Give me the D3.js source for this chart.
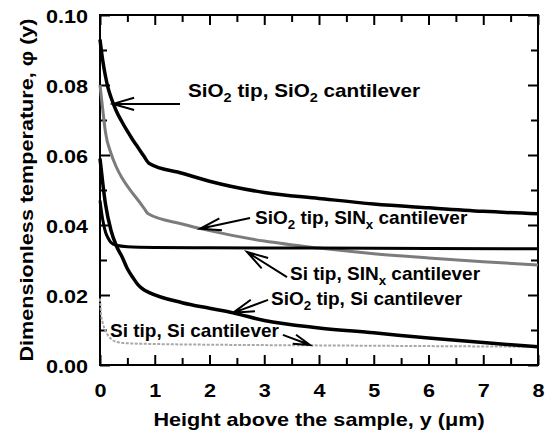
<!DOCTYPE html>
<html>
<head>
<meta charset="utf-8">
<script src="https://cdn.jsdelivr.net/npm/d3@7"></script>
<style>
  body { margin: 0; background: #fff; }
  svg text { font-family: "Liberation Sans", Arial, sans-serif; font-weight: bold; fill: #000; }
</style>
</head>
<body>
<div id="chart"></div>
<script>
// x values are the height above the sample (um), y the dimensionless temperature
var sio2Sio2 = [[0,0.093],[0.05,0.087],[0.1,0.0825],[0.15,0.079],[0.2,0.0765],[0.3,0.0725],[0.4,0.0695],[0.5,0.0668],[0.6,0.0643],[0.7,0.062],[0.8,0.0597],[0.9,0.0576],[1.5,0.0548],[2,0.0525],[3,0.0493],[4,0.0476],[5,0.046],[6,0.0449],[7,0.0439],[8,0.0432]];
var sio2Sinx = [[0,0.080],[0.05,0.073],[0.1,0.0665],[0.2,0.0605],[0.3,0.0565],[0.4,0.0535],[0.5,0.0511],[0.6,0.049],[0.7,0.047],[0.8,0.0449],[0.88,0.0432],[1.5,0.0403],[2,0.0384],[3,0.0354],[4,0.0334],[5,0.0318],[6,0.0306],[7,0.0295],[8,0.0286]];
var siSinx = [[0,0.047],[0.05,0.0415],[0.1,0.038],[0.15,0.0362],[0.2,0.035],[0.3,0.0342],[0.5,0.0338],[1,0.0336],[2,0.0335],[4,0.0334],[8,0.0332]];
var sio2Si = [[0,0.059],[0.05,0.052],[0.1,0.046],[0.2,0.0385],[0.3,0.034],[0.4,0.031],[0.5,0.0275],[0.6,0.025],[0.7,0.0228],[0.8,0.0215],[0.9,0.0207],[1.5,0.0178],[2,0.0162],[2.43,0.0149],[3,0.0127],[4,0.0106],[5,0.0092],[6,0.0077],[7,0.0064],[8,0.0052]];
var siSi = [[0,0.019],[0.02,0.0145],[0.05,0.012],[0.1,0.0098],[0.2,0.0075],[0.3,0.0066],[0.5,0.0062],[1,0.006],[2,0.0058],[4,0.0056],[6,0.0054],[8,0.0052]];

var xTicks = [0,1,2,3,4,5,6,7,8];
var yTicks = [0,0.02,0.04,0.06,0.08,0.10];

// label pieces ("s" = subscript); text anchor and arrow tail/tip in data units
var notes = [
  {parts:[["SiO",""],["2","s"],[" tip, SiO",""],["2","s"],[" cantilever",""]], tx:1.607, ty:0.0751, ax:1.461, ay:0.0746, bx:0.237, by:0.0746},
  {parts:[["SiO",""],["2","s"],[" tip, SIN",""],["x","s"],[" cantilever",""]], tx:2.831, ty:0.0389, ax:2.74, ay:0.042, bx:1.826, by:0.0389},
  {parts:[["Si tip, SIN",""],["x","s"],[" cantilever",""]], tx:3.47, ty:0.0229, ax:3.416, ay:0.0251, bx:2.685, by:0.0323},
  {parts:[["SiO",""],["2","s"],[" tip, Si cantilever",""]], tx:3.123, ty:0.0157, ax:3.07, ay:0.0186, bx:2.43, by:0.0149},
  {parts:[["Si tip, Si cantilever",""]], tx:0.183, ty:0.0066, ax:3.34, ay:0.0086, bx:3.836, by:0.0057}
];

var width = 545, height = 442;
var margin = {top: 15, right: 7, bottom: 77, left: 100};

var svg = d3.select("#chart").append("svg")
  .attr("width", width)
  .attr("height", height);

var x = d3.scaleLinear().domain([0, 8]).range([margin.left, width - margin.right]);
var y = d3.scaleLinear().domain([0, 0.10]).range([height - margin.bottom, margin.top]);

var minorX = d3.range(0.5, 8, 1);
var minorY = d3.range(0.01, 0.1, 0.02);

function styleAxis(g) {
  g.select(".domain").remove();
  g.selectAll("line").attr("stroke", "#000").attr("stroke-width", 2);
}

// bottom
svg.append("g").attr("transform", "translate(0," + y(0) + ")")
  .call(d3.axisBottom(x).tickValues(xTicks).tickSize(-10).tickPadding(19).tickFormat(d3.format("d")))
  .call(styleAxis)
  .selectAll("text").attr("font-size", 18).attr("transform", "scale(1.2,1)");
svg.append("g").attr("transform", "translate(0," + y(0) + ")")
  .call(d3.axisBottom(x).tickValues(minorX).tickSize(-7).tickFormat(""))
  .call(styleAxis);
// top
svg.append("g").attr("transform", "translate(0," + y(0.10) + ")")
  .call(d3.axisTop(x).tickValues(xTicks).tickSize(-10).tickFormat(""))
  .call(styleAxis);
svg.append("g").attr("transform", "translate(0," + y(0.10) + ")")
  .call(d3.axisTop(x).tickValues(minorX).tickSize(-7).tickFormat(""))
  .call(styleAxis);
// left
svg.append("g").attr("transform", "translate(" + x(0) + ",0)")
  .call(d3.axisLeft(y).tickValues(yTicks).tickSize(-10).tickPadding(12).tickFormat(d3.format(".2f")))
  .call(styleAxis)
  .selectAll("text").attr("font-size", 18).attr("x", -10).attr("dy", "0.4em").attr("transform", "scale(1.2,1)");
svg.append("g").attr("transform", "translate(" + x(0) + ",0)")
  .call(d3.axisLeft(y).tickValues(minorY).tickSize(-7).tickFormat(""))
  .call(styleAxis);
// right
svg.append("g").attr("transform", "translate(" + x(8) + ",0)")
  .call(d3.axisRight(y).tickValues(yTicks).tickSize(-10).tickFormat(""))
  .call(styleAxis);
svg.append("g").attr("transform", "translate(" + x(8) + ",0)")
  .call(d3.axisRight(y).tickValues(minorY).tickSize(-7).tickFormat(""))
  .call(styleAxis);

// frame
svg.append("rect")
  .attr("x", x(0)).attr("y", y(0.10))
  .attr("width", x(8) - x(0)).attr("height", y(0) - y(0.10))
  .attr("fill", "none").attr("stroke", "#000").attr("stroke-width", 2);

// curves
var line = d3.line().x(function(d) { return x(d[0]); }).y(function(d) { return y(d[1]); }).curve(d3.curveMonotoneX);

var series = [
  {data: siSi, color: "#a8a8a8", w: 2, dash: "3,1.5"},
  {data: sio2Sinx, color: "#7c7c7c", w: 3, dash: null},
  {data: siSinx, color: "#000", w: 3, dash: null},
  {data: sio2Si, color: "#000", w: 3.5, dash: null},
  {data: sio2Sio2, color: "#000", w: 3.5, dash: null}
];
svg.selectAll("path.curve").data(series).enter().append("path")
  .attr("class", "curve")
  .attr("d", function(d) { return line(d.data); })
  .attr("fill", "none")
  .attr("stroke", function(d) { return d.color; })
  .attr("stroke-width", function(d) { return d.w; })
  .attr("stroke-dasharray", function(d) { return d.dash; })
  .attr("stroke-linejoin", "round");

// annotation arrows: open chevron at the tip
function arrowPath(n) {
  var sx = x(n.ax), sy = y(n.ay), tx = x(n.bx), ty = y(n.by);
  var dx = sx - tx, dy = sy - ty, len = Math.sqrt(dx * dx + dy * dy);
  dx /= len; dy /= len;
  var L = Math.min(22, len * 0.6), a = 0.28;
  var c = Math.cos(a), s = Math.sin(a);
  var a1 = [tx + L * (dx * c - dy * s), ty + L * (dx * s + dy * c)];
  var a2 = [tx + L * (dx * c + dy * s), ty + L * (-dx * s + dy * c)];
  return "M" + sx + "," + sy + "L" + tx + "," + ty +
    "M" + a1[0] + "," + a1[1] + "L" + tx + "," + ty + "L" + a2[0] + "," + a2[1];
}
svg.selectAll("path.arrow").data(notes).enter().append("path")
  .attr("class", "arrow")
  .attr("d", arrowPath)
  .attr("fill", "none").attr("stroke", "#000").attr("stroke-width", 2);

// annotation text
notes.forEach(function(n, i) {
  var t = svg.append("text")
    .attr("transform", "translate(" + x(n.tx) + "," + y(n.ty) + ") scale(" + (i == 0 ? 1.15 : 1) + ",1)")
    .attr("font-size", i == 0 ? 18 : 19);
  n.parts.forEach(function(p) {
    if (p[1] == "s") {
      t.append("tspan").attr("font-size", "0.7em").attr("dy", 5).text(p[0]);
    } else {
      t.append("tspan").attr("dy", t.selectAll("tspan").size() > 0 ? -5 : 0).text(p[0]);
    }
  });
});

// axis titles
svg.append("text")
  .attr("transform", "translate(" + ((x(0) + x(8)) / 2) + ",426) scale(1.2,1)")
  .attr("text-anchor", "middle").attr("font-size", 18)
  .text("Height above the sample, y (\u03bcm)");

svg.append("text")
  .attr("transform", "translate(33," + ((y(0) + y(0.10)) / 2) + ") rotate(-90) scale(1.2,1)")
  .attr("text-anchor", "middle").attr("font-size", 18)
  .text("Dimensionless temperature, \u03c6 (y)");
</script>
</body>
</html>
